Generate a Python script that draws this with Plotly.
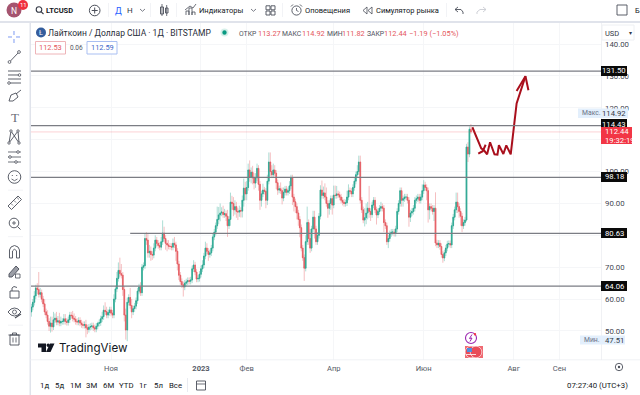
import pandas as pd
import plotly.graph_objects as go

# ---------- data ----------
closes = [
 57.5,59,61,63.5,63,61.5,62,60,58.5,56,
 55,53,51.5,52.5,51.3,53.5,54,52.8,53.2,52.5,
 53,53,53.8,53,52.7,53.5,55,54.8,54,53.7,
 53,52.8,53.3,52.5,52,51.8,52,51,50.5,51.2,
 51.4,51.6,51,50.6,51.5,52.4,52.6,53.8,54.5,56.5,
 56.1,55,55.8,56.6,55.6,55,60,63.2,66.5,69,
 68,67.5,63,55,50.3,59,60.5,58,56,57,
 57.8,59.5,62.5,63.8,62,
 70,70.5,79,78.5,74.5,75,74,73.8,76,78.5,
 77.5,76.8,76.3,78,80.7,79,77.5,77,76.6,76.5,
 76.3,77.5,77,75,71,67.5,65.5,64.5,63.8,65,
 65.4,65.8,65.6,66,69.5,70.7,68.5,66.3,66.5,67.8,
 69.5,70.7,73.5,76,75,74,74.5,76,79.5,81,
 83,85,86.4,87,87.3,86.5,86.8,86,83,85,
 90.4,90,88,89,87.5,87.3,87.8,87.6,91,94.8,
 93,95,100.5,98.3,
 99.8,98,96.4,98,101,96,91,93,94.2,93.8,
 91,97,103,100,99,100.5,99.5,96.5,94.2,94.6,
 94,91.7,93.5,94.5,93.5,94,95.5,98,92,90.5,
 89,87,85,82.4,76,73,69.7,78,84,79,
 76,82,85.7,82,78,80,86,94.2,92.5,93.3,
 92,90,88.5,90,91.5,89.5,92.6,92.5,93,92.7,
 92,91,90.4,90,90.2,92,94,93.8,93,95,
 97,99,100,103,
 91,88,84.8,85.5,87,88.5,87.5,86.5,89.5,91,
 88,86.4,87.5,88.5,89,88.5,84,83,78,79,
 80.5,81,81,80.6,82,87.5,90,94,91,91.5,92,
 92,91,85.7,87,87.5,88.5,91,91.5,92,91,92,
 94,95.8,95,94,88,89,88.5,87.5,88.5,77.6,
 77,77.5,76.5,74,72.9,74.5,76,77.3,77.4,77,
 83,85.7,88,90.4,89,87.5,86,83,84,84.8,
 107.7,105.5,113.27,112.44,
]
first_open = 56.0
wick_up = [
 1,1,1.5,1,1.5,5.5,1.5,1,1,1.5,
 1,1.5,1,2,2,2.5,1.5,2,1.5,2.5,
 1.5,1,1.5,1.5,1,1,1,1,1.5,1.5,
 1,1,1,1,1,1,1,1.5,1,1,
 1,1,1,1,1,0.5,1,1,1.5,1.5,
 2.5,1.5,1,1,1,1,1.5,1,2,2.5,
 4,3,1,1,2,1.5,1,3,2,1,
 1,1,1,1,1.5,
 1,1,1.5,2,2,2,1.5,1,1.5,1.5,
 1,1,1,1.5,4,2,1,1,1.5,1,
 1,1.5,2,1,1,1,1,1,1,1,
 1,1,1,1,1,1.5,1,1,1,1,
 1,1.5,1,2,1.5,1,1,1,1,1,
 1,4,2.5,3,1.5,2,1.5,1,2,1,
 3,2,2,2,1.5,1,1.5,1,1.5,3,
 2,2,2,3,
 1.5,2,1.5,1.5,1.5,1,1,1,2,1,
 1,2,3,3,2,2,1.5,1,1,1,
 2,1,1.5,1,1,1,1.5,1,1,1,
 1,1,1,1,1,1,1,2,5,1,
 3,1,2,2,1,1,1,1.5,3,2,
 3,3,1,1,1,1,3,3,2.5,1,
 1,1,1,1,1,2,2,1,1,1,
 1,1,2,2,
 2,1,1,3,3,2,7,1,1,1,
 1,1,1,1,1.5,1,1,1,1,1,
 1,1,1,1,1,1,1,1,1,1,1,
 1,1,1,1,1,1,1,1,1,1,1,
 2,1.5,1,1,1,1,1,1,1,5,
 1,1,1,1,1,1,1,1,1,1,
 1,1,1,3,3,1,1,1,1,1,
 1,1.5,0.9,1.65,
]
wick_down = [
 1.5,1,1,1,1.5,1,1,1,1,1,
 1,1,1.5,2,1.5,1,1,1,1,1,
 1,1,1,1,1,1,1,1,1,1,
 1,1,1,1,1,1,1,3,1.5,1,
 1,1,1,1,1,1,1,1,1,1,
 1,1,1,1,1,1,1,1,1,1,
 1,1,2,2,3,3.5,1,1,2,1,
 1,1,1,1,1,
 1,1,1,1.5,1.5,1.5,2,1.5,1,1,
 1,1,1,1,1,1,2,2,1,1,
 1,1,1,3,2,1.5,1,1,3,1,
 1,1,1,1,1,1,1,1,1,1,
 1,1,1,1,1,2,1,1,1,1,
 1,1,1.5,2,1,1,1,1.5,3.5,1,
 2,2,2,1.5,2,2.5,1.5,2,2,2,
 2,2,1,1.5,
 2,2,2,1.5,1,2,3,2,1,1,
 2.5,1.5,1,1.5,1,1,1,2,1.5,1,
 1,2,1,1,1,1,1,1,2.5,3,
 2,2,2,3,1,1,4,1,1,2,
 1.5,1,1,3,1,1,1,1,1,1,
 1,1,3,2,2,3,1,1,1,1,
 1,1,1,1,1,1,1,1,1,1,
 1,1,1,1,
 1,1,1,2,2,2,2,2,1,1,
 1,3,1,1,1,1,3,1,1,2,
 1,1,1,1,1,1,1,1,2,2,1,
 1,1,3,1.5,1,1,1,1,1,1,1,
 1,1,1,3,4,3,1,1,3,1,
 1,1,1,1,1.5,1,1,1,1,1,
 1,1,1,1,2,2,3,2,1,1,
 0.5,2.5,1,0.62,
]
last_date = "2023-07-03"
level_values = [131.50, 114.43, 98.18, 80.63, 64.06]
level_starts = ["2022-09-01", "2022-09-01", "2022-09-01", "2022-11-14", "2022-09-01"]
last_price = 112.44
arrow_dates = ["2023-07-04","2023-07-10","2023-07-12","2023-07-14","2023-07-16","2023-07-19","2023-07-21",
               "2023-07-22","2023-07-25","2023-07-27","2023-07-30","2023-08-01","2023-08-03","2023-08-09"]
arrow_values = [113.9,107.3,106.6,105.4,109.2,105.4,105.3,108.3,105.5,108.2,105.4,112.5,121.4,129.9]
head_dates = ["2023-08-03","2023-08-09","2023-08-11"]
head_values = [125.3,129.9,125.5]
barb_dates = ["2023-07-08","2023-07-11","2023-07-13"]
barb_values = [105.6,106.4,108.4]
y_ticks = [50,60,70,80,90,100,110,120,130,140]
y_tick_text = ["50.00","60.00","70.00","","90.00","100.00","","120.00","130.00","140.00"]
x_ticks = ["2022-11-01","2023-01-01","2023-02-01","2023-04-01","2023-06-01","2023-08-01","2023-09-01"]
x_tick_text = ["Ноя","<b>2023</b>","Фев","Апр","Июн","Авг","Сен"]

# ---------- derived candle parts ----------
dates = pd.date_range(end=last_date, periods=len(closes), freq="D")
opens = [first_open] + closes[:-1]
body_hi = [max(o, c) for o, c in zip(opens, closes)]
body_lo = [min(o, c) for o, c in zip(opens, closes)]
highs = [h + u for h, u in zip(body_hi, wick_up)]
lows = [l - d for l, d in zip(body_lo, wick_down)]

W, H = 640, 395
GREEN, RED = "#2ba892", "#e55d63"
FONT = "Roboto"
X = lambda p: p / W
Y = lambda p: 1 - p / H

fig = go.Figure()
fig.add_trace(go.Candlestick(x=dates, open=opens, high=highs, low=lows, close=closes, whiskerwidth=0,
    increasing=dict(line=dict(color="rgba(38,165,143,0.38)", width=1), fillcolor="rgba(0,0,0,0)"),
    decreasing=dict(line=dict(color="rgba(228,86,92,0.38)", width=1), fillcolor="rgba(0,0,0,0)"),
    showlegend=False, hoverinfo="skip"))
fig.add_trace(go.Candlestick(x=dates, open=opens, high=body_hi, low=body_lo, close=closes, whiskerwidth=0,
    increasing=dict(line=dict(color=GREEN, width=0.7), fillcolor=GREEN),
    decreasing=dict(line=dict(color=RED, width=0.7), fillcolor=RED),
    showlegend=False, hoverinfo="skip"))
for xs, ys in [(arrow_dates, arrow_values), (head_dates, head_values), (barb_dates, barb_values)]:
    fig.add_trace(go.Scatter(x=xs, y=ys, mode="lines", line=dict(color="#a90f1c", width=2),
                             showlegend=False, hoverinfo="skip"))

shapes, annos = [], []

def rect(x0, y0, x1, y1, fill=None, line=None, w=1):
    shapes.append(dict(type="rect", xref="paper", yref="paper", x0=X(x0), x1=X(x1), y0=Y(y0), y1=Y(y1),
                       fillcolor=fill or "rgba(0,0,0,0)", line=dict(color=line or "rgba(0,0,0,0)", width=w if line else 0)))

def circ(cx, cy, r, fill=None, line=None, w=1):
    shapes.append(dict(type="circle", xref="paper", yref="paper", x0=X(cx-r), x1=X(cx+r), y0=Y(cy-r), y1=Y(cy+r),
                       fillcolor=fill or "rgba(0,0,0,0)", line=dict(color=line or "rgba(0,0,0,0)", width=w if line else 0)))

def poly(pts, color="#4a4e59", w=1, closed=False, fill=None):
    d = "M" + " L".join(f"{X(a):.5f},{Y(b):.5f}" for a, b in pts) + (" Z" if closed else "")
    shapes.append(dict(type="path", xref="paper", yref="paper", path=d,
                       line=dict(color=color, width=w), fillcolor=fill or "rgba(0,0,0,0)"))

def txt(x, y, s, size=9, color="#131722", anchor="left", font=FONT):
    annos.append(dict(xref="paper", yref="paper", x=X(x), y=Y(y), text=s, showarrow=False, xanchor=anchor,
                      yanchor="middle", borderpad=0, borderwidth=0, font=dict(family=font, size=size, color=color)))

# panel rules
rect(0, 21, 640, 23, fill="#e0e3eb")
rect(29.5, 23, 31, 395, fill="#e0e3eb")
rect(30, 359.5, 640, 360.3, fill="#eceef2")
rect(601, 23, 601.8, 360, fill="#eceef2")

# horizontal levels
for v, s in zip(level_values, level_starts):
    shapes.append(dict(type="line", xref="x", yref="y", x0=s, x1="2023-09-30", y0=v, y1=v,
                       line=dict(color="#7b7d84", width=1.2)))
shapes.append(dict(type="line", xref="x", yref="y", x0="2022-09-01", x1="2023-09-30", y0=last_price, y1=last_price,
                   line=dict(color="rgba(242,54,69,0.13)", width=1.6)))

# price tags
TAG = 7.7
for v, py in zip(level_values, [71, 124, 177, 233, 286]):
    rect(601, py-5, 627, py+5, fill="#0a0a0a")
    txt(614, py, f"{v:.2f}", TAG, "#ffffff", "center")
rect(578, 108.5, 628, 118, fill="#e3effc")
txt(582, 113.5, "Макс.", 6.8, "#6a7186")
txt(614, 113.5, "114.92", TAG, "#333845", "center")
rect(580, 335.5, 625, 344.5, fill="#e3effc")
txt(584, 340, "Мин.", 6.8, "#6a7186")
txt(614, 340, "47.51", TAG, "#333845", "center")
rect(601, 127, 632, 144, fill="#f23645")
txt(605, 131.5, "112.44", TAG, "#ffffff")
txt(605, 140, "19:32:19", TAG, "#ffffff")
rect(602, 25, 634, 40, fill="#ffffff", line="#eef0f3")
txt(605, 33, "USD", 7.5, "#333845")
txt(630, 32.5, "▾", 6, "#333845", "center")

# top toolbar
circ(14, 10, 7.5, fill="#a5546f")
txt(14, 10.5, "N", 8.5, "#ffffff", "center")
circ(23, 5, 5, fill="#f0303f")
txt(23, 5, "11", 6, "#ffffff", "center")
circ(39, 9.5, 2.8, line="#333845", w=1.1)
poly([(41, 11.7), (43.5, 14)], "#333845", 1.1)
txt(46, 10.5, "<b>LTCUSD</b>", 7.5, "#131722")
circ(94.7, 10.5, 5.3, line="#4a4e59", w=1)
poly([(91.7, 10.5), (97.7, 10.5)], "#4a4e59", 1)
poly([(94.7, 7.5), (94.7, 13.5)], "#4a4e59", 1)
rect(108, 3, 108.7, 17, fill="#eceef2")
txt(118, 10.5, "Д", 9, "#2962ff", "center")
txt(130, 10.5, "Н", 8, "#333845", "center")
poly([(140, 9), (142.5, 11.3), (145, 9)], "#6a6d78", 0.9)
rect(150, 3, 150.7, 17, fill="#eceef2")
rect(160.5, 7, 163.5, 14, line="#4a4e59", w=0.9)
rect(165.5, 8, 168, 13, line="#4a4e59", w=0.9)
poly([(162, 4), (162, 16)], "#4a4e59", 0.8)
poly([(166.7, 5), (166.7, 16)], "#4a4e59", 0.8)
rect(176, 3, 176.7, 17, fill="#eceef2")
poly([(186, 15), (186, 11), (189, 11), (189, 15), (189, 8), (192, 8), (192, 15), (192, 12), (195, 12), (195, 15)], "#4a4e59", 0.8)
poly([(185, 10), (190, 6), (193, 8), (196, 4)], "#4a4e59", 0.8)
txt(199, 10.5, "Индикаторы", 7.5, "#131722")
poly([(251, 9), (253.5, 11.3), (256, 9)], "#6a6d78", 0.9)
for cx, cy in [(268, 7.8), (273, 7.8), (268, 13), (273, 13)]:
    rect(cx-2, cy-2, cx+2, cy+2, line="#4a4e59", w=0.9)
rect(282, 3, 282.7, 17, fill="#eceef2")
circ(296.5, 10.5, 4.6, line="#4a4e59", w=0.9)
poly([(296.5, 8), (296.5, 10.5), (298.5, 11.5)], "#4a4e59", 0.8)
poly([(291, 6.5), (293, 4.5)], "#4a4e59", 0.9)
poly([(300, 4.5), (302, 6.5)], "#4a4e59", 0.9)
txt(305, 10.5, "Оповещения", 7.5, "#131722")
poly([(367, 7), (363, 10.5), (367, 14), (367, 7)], "#4a4e59", 0.8)
poly([(372, 7), (368, 10.5), (372, 14), (372, 7)], "#4a4e59", 0.8)
txt(376, 10.5, "Симулятор рынка", 7.5, "#131722")
rect(446, 3, 446.7, 17, fill="#eceef2")
poly([(458, 7), (455, 9.5), (458, 12)], "#4a4e59", 0.9)
poly([(455, 9.5), (461, 9.5), (463, 12), (463, 14)], "#4a4e59", 0.9)
poly([(483, 7), (486, 9.5), (483, 12)], "#c9ccd3", 0.9)
poly([(486, 9.5), (480, 9.5), (477, 12), (477, 14)], "#c9ccd3", 0.9)
rect(617, 5, 627, 15, line="#4a4e59", w=0.9)
txt(640, 10.5, "Б", 7.5, "#131722", "right")

# legend rows
circ(41, 32.5, 5, fill="#345d9d")
txt(41, 32.5, "Ł", 7, "#ffffff", "center")
txt(48, 33, "Лайткоин / Доллар США · 1Д · BITSTAMP", 8.5, "#2a2e39")
circ(224.5, 32.5, 4, fill="#d7f0ea")
circ(224.5, 32.5, 2.2, fill="#089981")
for xp, s in [(239, "ОТКР"), (282, "МАКС"), (327, "МИН"), (367, "ЗАКР")]:
    txt(xp, 33.5, s, 6.8, "#50535e")
for xp, s in [(257.5, "113.27"), (302, "114.92"), (342, "111.82"), (384, "112.44"), (409, "−1.19 (−1.05%)")]:
    txt(xp, 33.5, s, 7.4, "#e4565c")
rect(35.5, 41.5, 65.5, 54, fill="#ffffff", line="#eeb4b8")
txt(50.5, 48, "112.53", 7.4, "#e4565c", "center")
txt(76, 48, "0.06", 6.5, "#50535e", "center")
rect(87, 41.5, 117, 54, fill="#ffffff", line="#a9bff2")
txt(102, 48, "112.59", 7.4, "#3d68c9", "center")

# left tools
ICON = "#4a4e59"
poly([(14, 31), (14, 35)], "#7d9bf2", 1)
poly([(14, 39), (14, 43)], "#7d9bf2", 1)
poly([(8, 37), (12, 37)], "#7d9bf2", 1)
poly([(16, 37), (20, 37)], "#7d9bf2", 1)
poly([(9.5, 62), (19, 52)], ICON, 0.9); circ(9.5, 62, 1.4, fill="#ffffff", line=ICON, w=0.8); circ(19, 52, 1.4, fill="#ffffff", line=ICON, w=0.8)
for yy in [71, 75, 79, 83]:
    poly([(8, yy), (21, yy)], ICON, 0.9)
circ(19.5, 75, 1.3, fill="#ffffff", line=ICON, w=0.8); circ(9, 83, 1.3, fill="#ffffff", line=ICON, w=0.8)
poly([(9, 101), (11, 95), (16, 93), (18, 97), (13, 101), (9, 101)], ICON, 0.9)
poly([(16, 94), (21, 90)], ICON, 0.9)
txt(14.5, 117, "T", 13, "#6a6d78", "center", "Liberation Serif")
poly([(9, 143), (11, 131), (19, 143), (18, 131), (9, 143)], ICON, 0.9)
for a, b in [(9, 143), (11, 131), (19, 143), (18, 131)]:
    circ(a, b, 1.2, fill="#ffffff", line=ICON, w=0.8)
for yy, a in [(152, 18), (157, 10), (162, 16)]:
    poly([(8, yy), (21, yy)], ICON, 0.8)
    circ(a, yy, 1.3, fill="#ffffff", line=ICON, w=0.8)
circ(14.5, 177, 6.3, line=ICON, w=0.9)
circ(12.3, 175.5, 0.6, fill=ICON); circ(16.7, 175.5, 0.6, fill=ICON)
poly([(11.5, 179), (14.5, 180.7), (17.5, 179)], ICON, 0.8)
rect(8, 189.8, 23, 190.4, fill="#e9ebef")
poly([(8, 206), (18, 196), (21.5, 199.5), (11.5, 209.5), (8, 206)], ICON, 0.9)
poly([(11, 203.5), (13, 205.5)], ICON, 0.7); poly([(14, 200.5), (16, 202.5)], ICON, 0.7); poly([(17, 197.5), (19, 199.5)], ICON, 0.7)
circ(14, 223, 4.8, line=ICON, w=0.9)
poly([(12, 223), (16, 223)], ICON, 0.8); poly([(14, 221), (14, 225)], ICON, 0.8); poly([(17.5, 226.5), (20.5, 229.5)], ICON, 0.9)
rect(8, 236.5, 23, 237.1, fill="#e9ebef")
poly([(9.5, 258), (9.5, 250), (11, 247), (14.5, 245.5), (18, 247), (19.5, 250), (19.5, 258), (16.5, 258), (16.5, 251), (14.5, 249), (12.5, 251), (12.5, 258), (9.5, 258)], ICON, 0.9)
poly([(9, 274), (16, 266), (19, 269), (12, 277), (9, 277), (9, 274)], ICON, 0.9, fill="#9b9ea6")
rect(15.5, 274, 20, 278, line=ICON, w=0.8)
rect(10, 291, 19, 298, line=ICON, w=0.9)
poly([(12, 291), (12, 288), (14, 286.5), (17, 287.5)], ICON, 0.9)
poly([(8, 312), (11, 309), (14.5, 308), (18, 309), (21, 312), (18, 315), (14.5, 316), (11, 315), (8, 312)], ICON, 0.9)
circ(14.5, 312, 2, line=ICON, w=0.8)
poly([(15, 318), (21, 314)], ICON, 1.1)
rect(8, 324.8, 23, 325.4, fill="#e9ebef")
rect(10, 335, 19, 345, line=ICON, w=0.9)
poly([(8.5, 335), (20.5, 335)], ICON, 0.9)
poly([(12.5, 335), (12.5, 333), (16.5, 333), (16.5, 335)], ICON, 0.9)
poly([(13, 337.5), (13, 342.5)], ICON, 0.8); poly([(16, 337.5), (16, 342.5)], ICON, 0.8)

# TradingView mark
poly([(38, 343.5), (46, 343.5), (46, 352), (41.5, 352), (41.5, 347.5), (38, 347.5)], "#131722", 0, closed=True, fill="#131722")
circ(48.2, 345.2, 1.7, fill="#131722")
poly([(50, 343.5), (54.5, 343.5), (50.5, 352), (46, 352)], "#131722", 0, closed=True, fill="#131722")
txt(58.5, 347.5, "TradingView", 11.6, "#131722", "left", "Inter")

# event badges
circ(471, 338, 5.5, fill="#ffffff", line="#9c27b0", w=1.1)
poly([(472, 334.5), (469.5, 338.5), (472, 338), (470, 341.5)], "#9c27b0", 1)
circ(475, 334.3, 1.2, fill="#f23645")
rect(465, 346, 483, 358, fill="#ef6a72")
circ(471, 352, 5.8, fill="#e84c58", line="#ffffff", w=0.6)
circ(476, 352, 5.8, fill="#e84c58", line="#ffffff", w=0.6)
rect(467, 348, 472, 352, fill="#4d8fe0")
poly([(466, 354.5), (476, 354.5)], "#ffffff", 0.8)

# bottom bar
for xp, s in [(44, "1д"), (59, "5д"), (75, "1М"), (91, "3М"), (108, "6М"), (126, "YTD"), (143, "1г"), (158, "5л"), (175, "Все")]:
    txt(xp, 385.5, s, 7.8, "#131722", "center")
rect(187, 378, 187.7, 392, fill="#e0e3eb")
rect(196.5, 381, 205.5, 390, line="#4a4e59", w=0.9)
poly([(196.5, 384), (205.5, 384)], "#4a4e59", 0.8)
txt(628, 385.5, "07:27:40 (UTC+3)", 7.8, "#131722", "right")
circ(619, 367, 3.7, line="#4a4e59", w=0.9)
circ(619, 367, 1.2, fill="#4a4e59")

fig.update_layout(
    width=W, height=H, autosize=False, margin=dict(l=0, r=0, t=0, b=0),
    paper_bgcolor="#ffffff", plot_bgcolor="#ffffff", showlegend=False,
    shapes=shapes, annotations=annos, font=dict(family=FONT, size=8, color="#434651"),
    xaxis=dict(domain=[31/W, 601/W], type="date", range=["2022-09-07 18:00", "2023-09-29 05:00"],
               rangeslider=dict(visible=False), tickmode="array", tickvals=x_ticks, ticktext=x_tick_text,
               showgrid=True, gridcolor="#f5f6f8", gridwidth=1, zeroline=False, showline=False, ticks="",
               tickfont=dict(family=FONT, size=7.6, color="#555a66"), automargin=False, ticklabelstandoff=2),
    yaxis=dict(domain=[1-360/H, 1-23/H], range=[40.9, 146.6], side="right", tickmode="array",
               tickvals=y_ticks, ticktext=y_tick_text, showgrid=True, gridcolor="#f5f6f8", gridwidth=1,
               zeroline=False, showline=False, ticks="", automargin=False, ticklabelstandoff=3,
               tickfont=dict(family=FONT, size=7.8, color="#434651")),
)
fig.write_html("out.html", config=dict(displayModeBar=False),
               post_script="document.body.style.margin='0';document.documentElement.style.overflow='hidden';")
